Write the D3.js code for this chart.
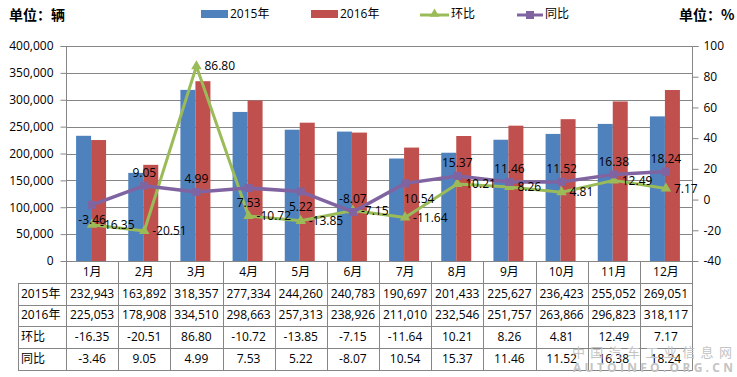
<!DOCTYPE html>
<html><head><meta charset="utf-8">
<script src="https://cdn.jsdelivr.net/npm/d3@7"></script>
<style>
html,body{margin:0;padding:0;background:#fff;}
svg{display:block;font-family:"Open Sans","Noto Sans CJK SC",sans-serif;}
</style></head>
<body><svg id="c" width="737" height="377"></svg>
<script>
const months = ["1月","2月","3月","4月","5月","6月","7月","8月","9月","10月","11月","12月"];
const sales2015 = [232943,163892,318357,277334,244260,240783,190697,201433,225627,236423,255052,269051];
const sales2016 = [225053,178908,334510,298663,257313,238926,211010,232546,251757,263866,296823,318117];
const mom = [-16.35,-20.51,86.80,-10.72,-13.85,-7.15,-11.64,10.21,8.26,4.81,12.49,7.17];
const yoy = [-3.46,9.05,4.99,7.53,5.22,-8.07,10.54,15.37,11.46,11.52,16.38,18.24];
const leftTicks = [0,50000,100000,150000,200000,250000,300000,350000,400000];
const rightTicks = [-40,-20,0,20,40,60,80,100];
const yoyLabelPos = ["below","above","above","below","below","above","belowright","above","above","above","above","above"];

const loc = d3.formatLocale({decimal:".", thousands:",", grouping:[3], currency:["",""], minus:"-"});
const fmtInt = loc.format(",");
const fmt = loc.format(".2f");
const fmtR = loc.format("d");

const C = {b:"#4F81BD", r:"#C0504D", g:"#9BBB59", p:"#8064A2", grid:"#868686"};
const svg = d3.select("#c");
const L=66, R=692, T=46, B=261;
const x = d3.scaleBand().domain(months).range([L,R]);
const yL = d3.scaleLinear().domain([0,400000]).range([B,T]);
const yR = d3.scaleLinear().domain([-40,100]).range([B,T]);
const xs = d3.scaleBand().domain(["2015","2016"]).range([-16,14]);

// gridlines
svg.append("g").selectAll("line").data(leftTicks.slice(1)).join("line")
  .attr("x1",L).attr("x2",R).attr("y1",d=>Math.round(yL(d))+0.5).attr("y2",d=>Math.round(yL(d))+0.5)
  .attr("stroke",C.grid).attr("stroke-width",1);

// bars
const cx = m => x(m)+x.bandwidth()/2;
svg.append("g").selectAll("rect").data(months.map((m,i)=>({m,v:sales2015[i]}))).join("rect")
  .attr("x",d=>cx(d.m)+xs("2015")).attr("width",xs.bandwidth()).attr("y",d=>yL(d.v)).attr("height",d=>B-yL(d.v)).attr("fill",C.b);
svg.append("g").selectAll("rect").data(months.map((m,i)=>({m,v:sales2016[i]}))).join("rect")
  .attr("x",d=>cx(d.m)+xs("2016")).attr("width",xs.bandwidth()).attr("y",d=>yL(d.v)).attr("height",d=>B-yL(d.v)).attr("fill",C.r);

// axes
const axL = d3.axisLeft(yL).tickValues(leftTicks).tickFormat(fmtInt).tickSize(6).tickPadding(7);
const gL = svg.append("g").attr("transform",`translate(${L+0.5},0)`).call(axL);
const axR = d3.axisRight(yR).tickValues(rightTicks).tickFormat(fmtR).tickSize(6).tickPadding(5);
const gR = svg.append("g").attr("transform",`translate(${R+0.5},0)`).call(axR);
[gL,gR].forEach(g=>{
  g.selectAll("path,line").attr("stroke",C.grid);
  g.select(".domain").attr("d", g===gL ? `M-6,${T+0.5}H0V${B}` : `M6,${T+0.5}H0V${B}`);
  g.selectAll("text").attr("font-size",12).attr("fill","#000").attr("font-family",'"Open Sans","Noto Sans CJK SC",sans-serif');
});

// lines
const ptsM = months.map((m,i)=>[cx(m),yR(mom[i])]);
const ptsY = months.map((m,i)=>[cx(m),yR(yoy[i])]);
svg.append("path").attr("d",d3.line()(ptsM)).attr("fill","none").attr("stroke",C.g).attr("stroke-width",3).attr("stroke-linejoin","round");
svg.append("g").selectAll("path").data(ptsM).join("path")
  .attr("d",d3.symbol(d3.symbolTriangle,48)).attr("transform",d=>`translate(${d[0]},${d[1]})`).attr("fill",C.g);
svg.append("path").attr("d",d3.line()(ptsY)).attr("fill","none").attr("stroke",C.p).attr("stroke-width",3.5).attr("stroke-linejoin","round");
svg.append("g").selectAll("rect").data(ptsY).join("rect")
  .attr("x",d=>d[0]-4).attr("y",d=>d[1]-4).attr("width",8).attr("height",8).attr("fill",C.p);

// data labels
svg.append("g").selectAll("text").data(ptsM).join("text")
  .attr("x",d=>d[0]+8).attr("y",d=>d[1]).attr("dy","0.35em").attr("font-size",12).text((d,i)=>fmt(mom[i]));
svg.append("g").selectAll("text").data(ptsY).join("text")
  .attr("text-anchor","middle")
  .attr("x",(d,i)=>d[0]+(yoyLabelPos[i]==="belowright"?14:0))
  .attr("y",(d,i)=>d[1]+(yoyLabelPos[i]==="above"?-13:15)).attr("dy","0.35em").attr("font-size",12)
  .text((d,i)=>fmt(yoy[i]));

// table
const rowsY = [261,283,304.5,326,348,370];
const tg = svg.append("g");
const lineC = C.grid;
tg.selectAll("line.h").data(rowsY).join("line")
  .attr("x1",(d,i)=>i===0?L:18).attr("x2",R+0.5).attr("y1",d=>Math.round(d)+0.5).attr("y2",d=>Math.round(d)+0.5).attr("stroke",lineC);
const vx = [18].concat(months.map(m=>x(m))).concat([R]);
tg.selectAll("line.v").data(vx).join("line")
  .attr("x1",d=>Math.round(d)+0.5).attr("x2",d=>Math.round(d)+0.5)
  .attr("y1",(d,i)=>i===0?283:261).attr("y2",370.5).attr("stroke",lineC);
const rowLabels = ["2015年","2016年","环比","同比"];
const rowData = [sales2015.map(fmtInt), sales2016.map(fmtInt), mom.map(fmt), yoy.map(fmt)];
const mid = i => (rowsY[i]+rowsY[i+1])/2;
tg.selectAll("text.m").data(months).join("text").attr("x",d=>cx(d)).attr("y",mid(0)).attr("dy","0.35em")
  .attr("text-anchor","middle").attr("font-size",12).text(d=>d);
rowLabels.forEach((lab,r)=>{
  tg.append("text").attr("x",21).attr("y",mid(r+1)).attr("dy","0.35em").attr("font-size",12).text(lab);
  tg.append("g").selectAll("text").data(rowData[r]).join("text")
    .attr("x",(d,i)=>cx(months[i])).attr("y",mid(r+1)).attr("dy","0.35em").attr("text-anchor","middle").attr("font-size",12).text(d=>d);
});

// titles
svg.append("text").attr("x",9).attr("y",15).attr("dy","0.35em").attr("font-size",14).attr("font-weight","bold")
  .attr("font-family",'"Noto Sans CJK SC",sans-serif').text("单位：辆");
svg.append("text").attr("x",679).attr("y",15).attr("dy","0.35em").attr("font-size",14).attr("font-weight","bold")
  .attr("font-family",'"Noto Sans CJK SC",sans-serif').text("单位：%");

// legend
const lg = svg.append("g");
lg.append("rect").attr("x",201).attr("y",10).attr("width",27).attr("height",8).attr("fill",C.b);
lg.append("text").attr("x",230).attr("y",14).attr("dy","0.35em").attr("font-size",12).text("2015年");
lg.append("rect").attr("x",311).attr("y",10).attr("width",27).attr("height",8).attr("fill",C.r);
lg.append("text").attr("x",340).attr("y",14).attr("dy","0.35em").attr("font-size",12).text("2016年");
lg.append("line").attr("x1",420).attr("x2",449).attr("y1",15).attr("y2",15).attr("stroke",C.g).attr("stroke-width",3);
lg.append("path").attr("d",d3.symbol(d3.symbolTriangle,40)).attr("transform","translate(434.5,14)").attr("fill",C.g);
lg.append("text").attr("x",451).attr("y",14).attr("dy","0.35em").attr("font-size",12).text("环比");
lg.append("line").attr("x1",517).attr("x2",543).attr("y1",15).attr("y2",15).attr("stroke",C.p).attr("stroke-width",3);
lg.append("rect").attr("x",526).attr("y",11).attr("width",8).attr("height",8).attr("fill",C.p);
lg.append("text").attr("x",545).attr("y",14).attr("dy","0.35em").attr("font-size",12).text("同比");

// watermark
svg.append("text").attr("x",572).attr("y",352).attr("dy","0.35em").attr("font-size",13).attr("fill","#c4c4c4")
  .attr("textLength",160).attr("lengthAdjust","spacing").attr("font-family",'"Noto Sans CJK SC",sans-serif').text("中国汽车工业信息网");
svg.append("text").attr("x",573).attr("y",368).attr("dy","0.35em").attr("font-size",12).attr("font-weight","bold").attr("fill","#c4c4c4")
  .attr("textLength",160).attr("lengthAdjust","spacing").text("AUTOINFO.ORG.CN");
</script></body></html>
